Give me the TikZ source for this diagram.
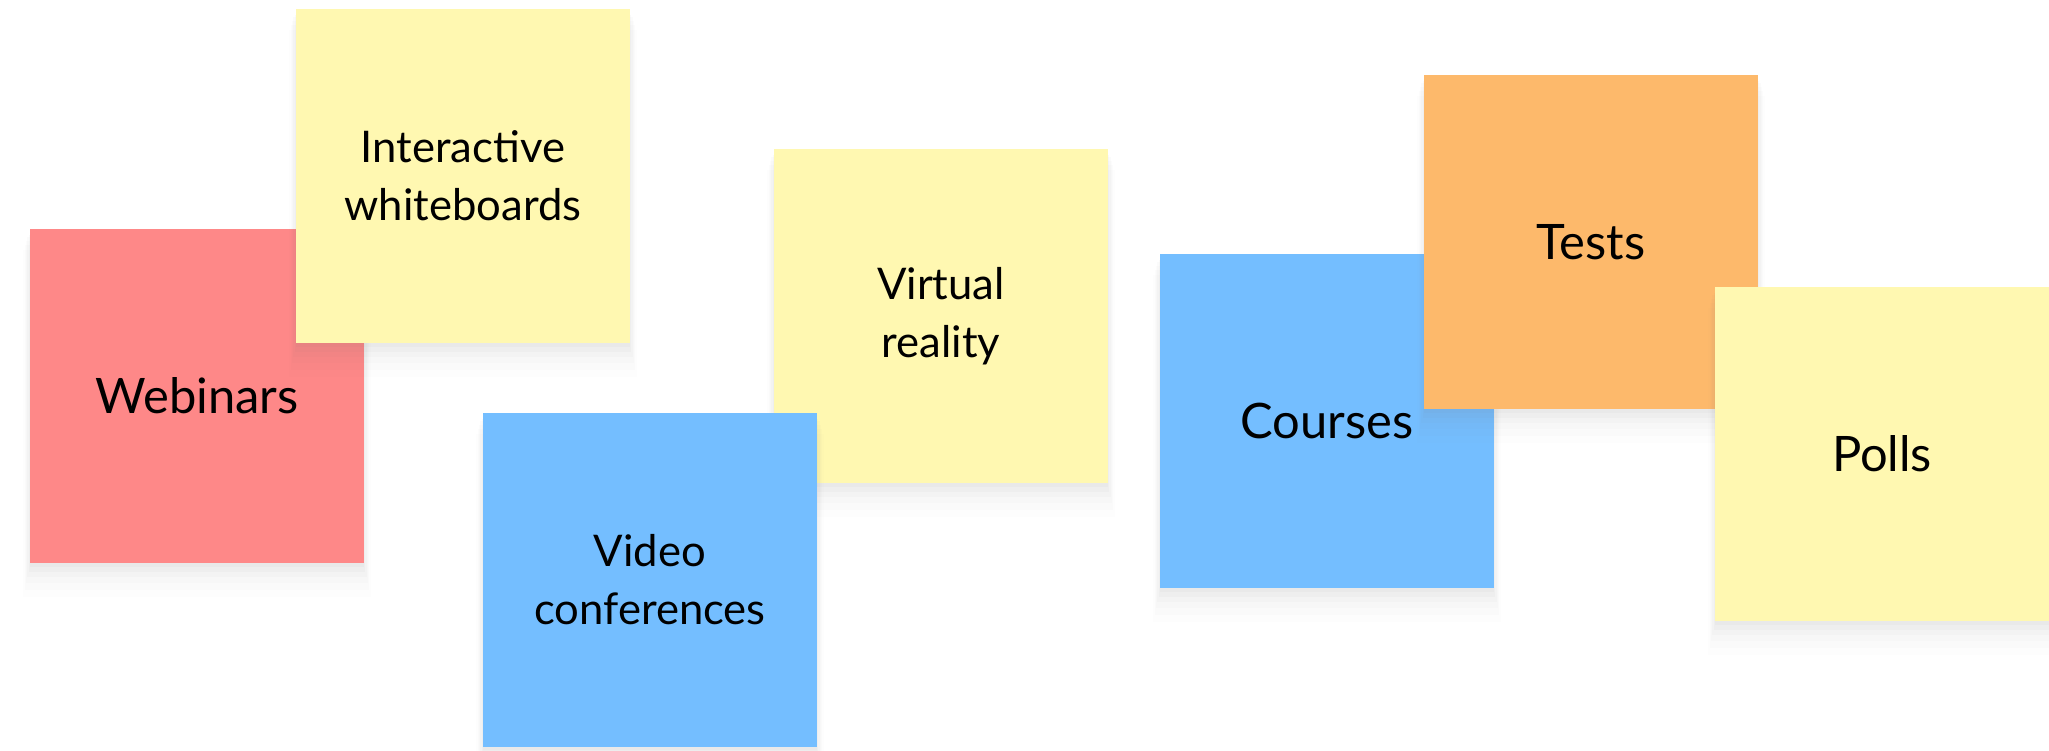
\documentclass[tikz,border=0pt]{standalone}
\usepackage{xcolor}
\usepackage{fontspec}
\setmainfont{Lato}
\usepackage{tikz}
\usetikzlibrary{shadows}
\definecolor{notered}{RGB}{254,136,136}
\definecolor{noteyellow}{RGB}{255,248,177}
\definecolor{noteblue}{RGB}{116,190,255}
\definecolor{noteorange}{RGB}{253,185,107}

\begin{document}
\begin{tikzpicture}[x=0.01cm, y=-0.01cm]
\tikzstyle{note}=[rectangle, minimum size=3.34cm, inner sep=0pt, align=center,
  drop shadow={shadow xshift=0pt, shadow yshift=-1pt, shadow scale=1.000, opacity=.035},
  drop shadow={shadow xshift=0pt, shadow yshift=-2pt, shadow scale=1.008, opacity=.035},
  drop shadow={shadow xshift=0pt, shadow yshift=-3pt, shadow scale=1.016, opacity=.03},
  drop shadow={shadow xshift=0pt, shadow yshift=-4.5pt, shadow scale=1.024, opacity=.025},
  drop shadow={shadow xshift=0pt, shadow yshift=-6pt, shadow scale=1.032, opacity=.02},
  drop shadow={shadow xshift=0pt, shadow yshift=-7.5pt, shadow scale=1.040, opacity=.015}]
\tikzstyle{big}=[font=\fontsize{13.9}{18}\selectfont]
\tikzstyle{small}=[font=\fontsize{12.4}{16.5}\selectfont]
\useasboundingbox (0,0) rectangle (2049,750);
\fill[white] (0,0) rectangle (2049,750);

\node[note, big, fill=notered] (w) at (197,396) {Webinars};
\node[note, small, fill=noteyellow] (iw) at (463,176) {Interactive\\whiteboards};
\node[note, small, fill=noteyellow] (vr) at (941,316) {Virtual\\reality};
\node[note, small, fill=noteblue] (vc) at (650,580) {Video\\conferences};
\node[note, big, fill=noteblue] (c) at (1327,421) {Courses};
\node[note, big, fill=noteorange] (t) at (1591,242) {Tests};
\node[note, big, fill=noteyellow] (p) at (1882,454) {Polls};
\end{tikzpicture}
\end{document}
